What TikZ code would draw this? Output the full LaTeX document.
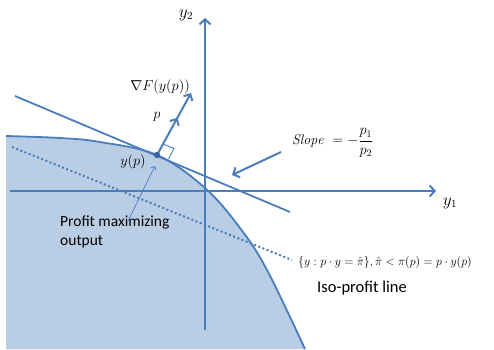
\documentclass[tikz,border=0pt]{standalone}
\usepackage{fontspec}
\usepackage{amsmath}
\newfontfamily\calfont{Carlito}
\usetikzlibrary{arrows.meta,decorations.markings}
\definecolor{ln}{HTML}{4A7EBB}
\definecolor{fl}{HTML}{B9CDE5}
\tikzset{
  axis/.style={draw=ln, line width=2pt, -{Straight Barb[length=5pt,width=11pt,line width=2pt]}},
  thick line/.style={draw=ln, line width=1.8pt},
  lbl/.style={inner sep=0pt, font=\calfont\fontsize{15.5}{18.5}\selectfont},
  mth/.style={inner sep=0pt, font=\fontsize{14}{16}\selectfont},
  big/.style={inner sep=0pt, font=\fontsize{16}{18}\selectfont},
}
\begin{document}
\begin{tikzpicture}[x=1pt,y=-1pt]
\useasboundingbox (0,0) rectangle (494,349);
% region
\fill[fl] plot[smooth, tension=0.6] coordinates {(6,136) (60,138) (100,142) (157,155) (205,188) (240,228) (267,270) (305,349)} -- (6,349) -- cycle;
% iso-profit dotted line
\coordinate (d1) at (12,147);
\coordinate (d2) at (292,260);
\draw[ln, line width=2pt, dash pattern=on 2pt off 2.5pt] (d1) -- (d2);
% axes
\coordinate (xa) at (10,191);
\coordinate (xb) at (436,191);
\coordinate (ya) at (205,330);
\coordinate (yb) at (205,18);
\draw[axis] (xa) -- (xb);
\draw[axis] (ya) -- (yb);
% boundary curve
\draw[thick line] plot[smooth, tension=0.6] coordinates {(6,136) (60,138) (100,142) (157,155) (205,188) (240,228) (267,270) (305,349)};
% tangent line
\coordinate (t1) at (15,96);
\coordinate (t2) at (290,212);
\draw[thick line] (t1) -- (t2);
% optimum point
\coordinate (yp) at (157,155);
\coordinate (g) at (191,93);
\draw[ln, line width=2pt, -{Straight Barb[length=5pt,width=10pt,line width=2pt]},
  postaction={decorate}, decoration={markings, mark=at position 0.6 with {\arrow{Straight Barb[length=5pt,width=10pt,line width=2pt]}}}] (yp) -- (g);
% right angle mark
\coordinate (ra) at (163,144);
\coordinate (rb) at (174,148.5);
\coordinate (rc) at (168.5,159);
\draw[ln, line width=0.9pt] (ra) -- (rb) -- (rc);
\fill[ln!80!black] (yp) circle (3.2);
% labels
\node[big] (ylab2) at (186,15) {$y_2$};
\node[big] (ylab1) at (450,203) {$y_1$};
\node[mth] (grad) at (160,87) {$\nabla F(y(p))$};
\node[mth] (plab) at (157,117) {$p$};
\node[mth] (yplab) at (133,162) {$y(p)$};
\node[mth, anchor=west] (slope) at (292,143) {$\mathit{Slope}\ =-\dfrac{p_1}{p_2}$};
\node[mth, anchor=west, font=\fontsize{13}{16}\selectfont] (set) at (298,262) {$\{y:p\cdot y=\hat{\pi}\},\hat{\pi}<\pi(p)=p\cdot y(p)$};
\node[lbl, anchor=west, font=\calfont\fontsize{16.5}{19}\selectfont] (iso) at (317,288) {Iso-profit line};
\node[lbl, anchor=north west, align=left] (pmo) at (60,216) {Profit maximizing\\output};
% arrows
\coordinate (s1) at (281,152);
\coordinate (s2) at (232,175);
\draw[ln, line width=2pt, -{Straight Barb[length=5pt,width=11pt,line width=2pt]}] (s1) -- (s2);
\coordinate (p1) at (128,221);
\coordinate (p2) at (155,166);
\draw[ln, line width=0.7pt, -{Straight Barb[length=3pt,width=6pt,line width=0.7pt]}] (p1) -- (p2);
\end{tikzpicture}
\end{document}
